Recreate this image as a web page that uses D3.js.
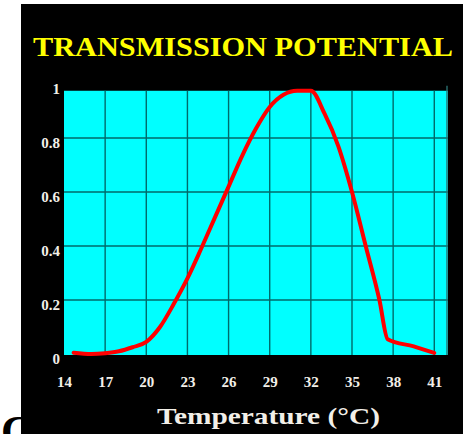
<!DOCTYPE html>
<html>
<head>
<meta charset="utf-8">
<script src="https://cdn.jsdelivr.net/npm/d3@7"></script>
<style>
  html, body { margin: 0; padding: 0; background: #fff; }
  svg { display: block; }
</style>
</head>
<body>
<script>
// Data
const temps = [14.7, 16, 17, 18, 19, 20, 21, 22, 23, 24, 25, 26, 27, 28, 29, 30, 31, 32, 33, 34, 35, 36, 37, 37.6, 39.5, 41];
const potential = [0.005, 0.0, 0.003, 0.01, 0.025, 0.045, 0.1, 0.185, 0.28, 0.39, 0.505, 0.62, 0.735, 0.835, 0.915, 0.96, 0.975, 0.975, 0.89, 0.77, 0.6, 0.4, 0.2, 0.055, 0.028, 0.004];
const xTicks = [14, 17, 20, 23, 26, 29, 32, 35, 38, 41];
const yTicks = [0, 0.2, 0.4, 0.6, 0.8, 1];
const yTickLabels = ["0", "0.2", "0.4", "0.6", "0.8", "1"];

const width = 463, height = 434;
const xMax = 42, yTop = 0.975;

const svg = d3.select("body").append("svg")
  .attr("width", width)
  .attr("height", height)
  .attr("viewBox", [0, 0, width, height]);

// slide background: white strip on the left, partly hidden letter, black panel
svg.append("rect").attr("width", width).attr("height", height).attr("fill", "#fff");
svg.append("text")
  .attr("x", 1).attr("y", 446)
  .attr("font-family", "Liberation Serif, serif")
  .attr("font-weight", "bold")
  .attr("font-size", 44)
  .attr("fill", "#000")
  .text("C");
svg.append("rect")
  .attr("x", 21).attr("y", 4)
  .attr("width", width - 21).attr("height", height - 4)
  .attr("fill", "#000");

const x = d3.scaleLinear().domain([14, xMax]).range([64, 448]);
const y = d3.scaleLinear().domain([0, 1]).range([354, 84]);

// plot area
svg.append("rect")
  .attr("x", x(14)).attr("y", y(yTop))
  .attr("width", x(xMax) - x(14))
  .attr("height", y(0) - y(yTop) + 1)
  .attr("fill", "#00ffff");

// grid
const grid = svg.append("g")
  .attr("stroke", "#006a6a")
  .attr("stroke-width", 1.4);
grid.selectAll(".v")
  .data(xTicks.slice(1))
  .join("line")
  .attr("x1", d => x(d)).attr("x2", d => x(d))
  .attr("y1", y(yTop)).attr("y2", y(0) + 1);
grid.selectAll(".h")
  .data(yTicks.filter(d => d > 0 && d < 1))
  .join("line")
  .attr("x1", x(14)).attr("x2", x(xMax))
  .attr("y1", d => y(d)).attr("y2", d => y(d));
grid.append("line")
  .attr("x1", x(xMax) - 1).attr("x2", x(xMax) - 1)
  .attr("y1", y(yTop) - 5).attr("y2", y(0) + 1)
  .attr("stroke", "#2a6f6f");

// curve
const line = d3.line()
  .x((d, i) => x(temps[i]))
  .y(d => y(d))
  .curve(d3.curveMonotoneX);
svg.append("path")
  .attr("d", line(potential))
  .attr("fill", "none")
  .attr("stroke", "#ff0000")
  .attr("stroke-width", 4)
  .attr("stroke-linejoin", "round")
  .attr("stroke-linecap", "round");

// axes
const fontFam = "Liberation Serif, DejaVu Serif, serif";
svg.append("g")
  .attr("transform", `translate(0,${y(0)})`)
  .call(d3.axisBottom(x).tickValues(xTicks).tickSize(0).tickPadding(22))
  .call(g => g.select(".domain").remove())
  .call(g => g.selectAll("text")
    .attr("fill", "#f2efe8")
    .attr("font-family", fontFam)
    .attr("font-weight", "bold")
    .attr("font-size", 15));

svg.append("g")
  .attr("transform", `translate(${x(14)},0)`)
  .call(d3.axisLeft(y).tickValues(yTicks).tickFormat((d, i) => yTickLabels[i]).tickSize(0).tickPadding(4))
  .call(g => g.select(".domain").remove())
  .call(g => g.selectAll("text")
    .attr("fill", "#f2efe8")
    .attr("dy", "0.62em")
    .attr("font-family", fontFam)
    .attr("font-weight", "bold")
    .attr("font-size", 15));

// title and axis label
svg.append("text")
  .attr("x", 33).attr("y", 56)
  .attr("textLength", 420)
  .attr("lengthAdjust", "spacingAndGlyphs")
  .attr("font-family", fontFam)
  .attr("font-weight", "bold")
  .attr("font-size", 27)
  .attr("fill", "#ffff00")
  .text("TRANSMISSION POTENTIAL");

svg.append("text")
  .attr("x", 157).attr("y", 424)
  .attr("textLength", 223)
  .attr("lengthAdjust", "spacingAndGlyphs")
  .attr("font-family", fontFam)
  .attr("font-weight", "bold")
  .attr("font-size", 24)
  .attr("fill", "#f2efe8")
  .text("Temperature (°C)");
</script>
</body>
</html>
